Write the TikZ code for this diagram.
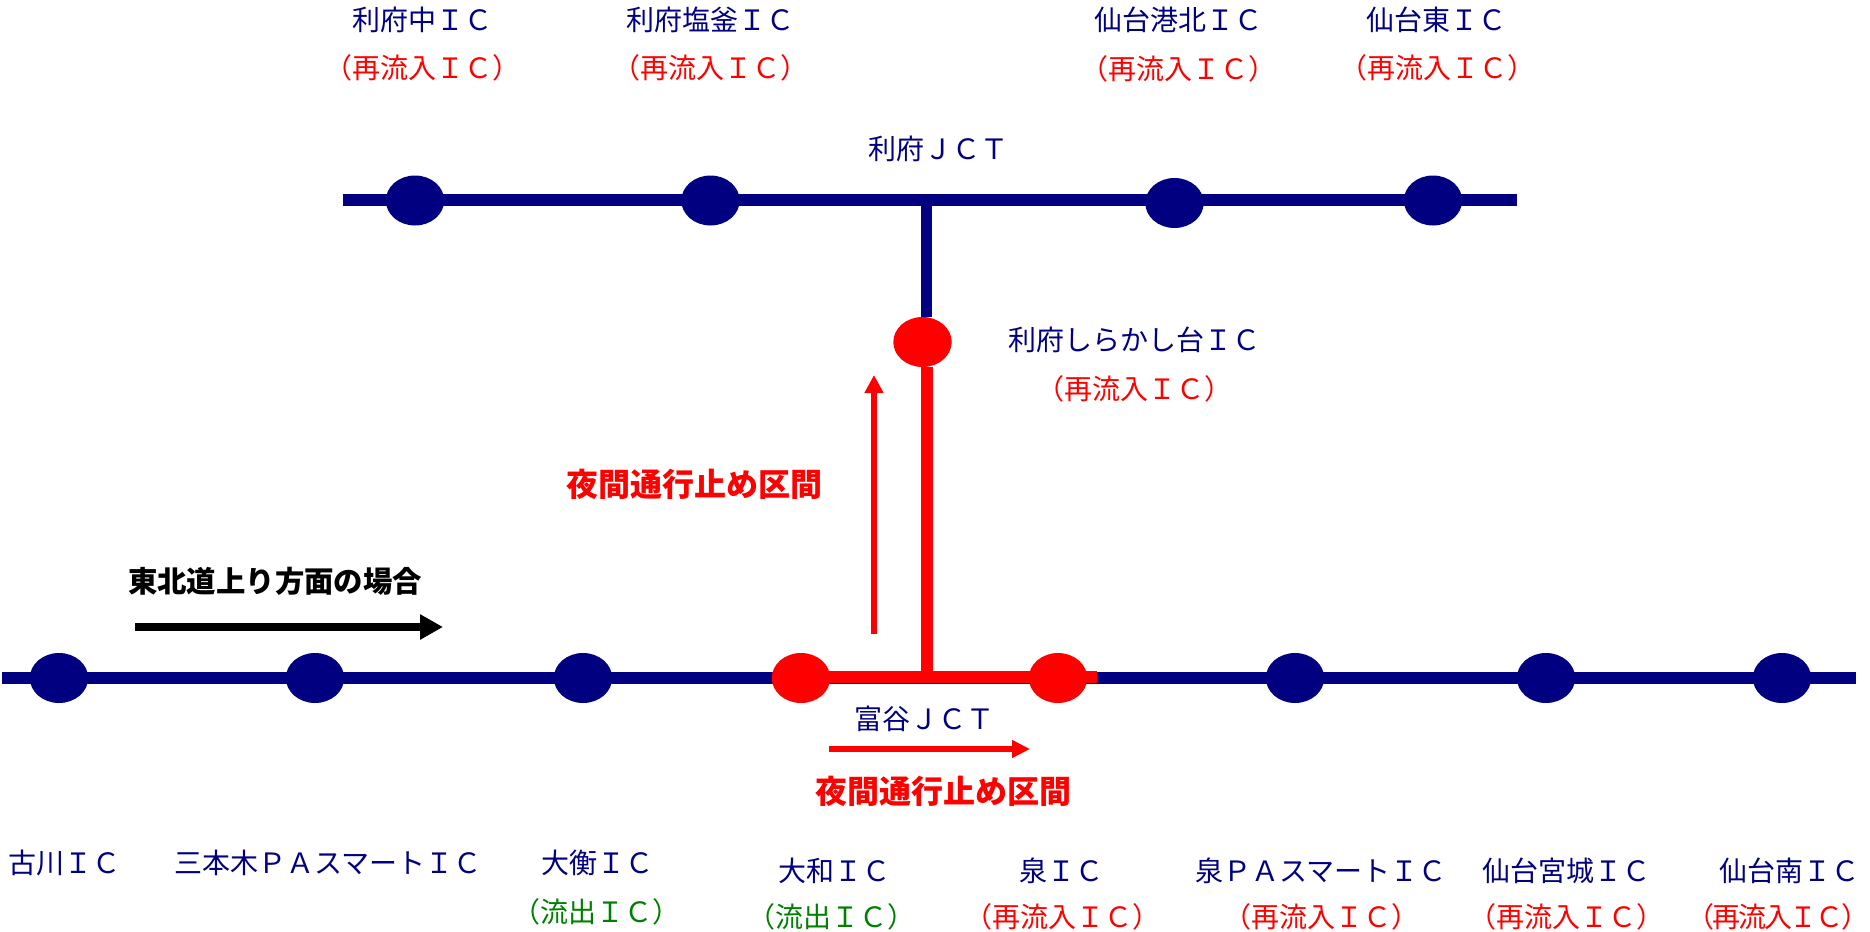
\documentclass[tikz,border=0pt]{standalone}
\usepackage{fontspec}
\setmainfont{Noto Sans CJK JP}
\usetikzlibrary{arrows.meta,shapes.geometric}
\definecolor{nv}{RGB}{0,0,128}
\definecolor{rd}{RGB}{255,0,0}
\definecolor{gr}{RGB}{0,128,0}
\tikzset{
  ic/.style={ellipse,minimum width=29.2pt,minimum height=25pt,inner sep=0pt,fill=#1,draw=none},
  road/.style={line width=6pt,color=#1,line cap=butt},
  lbl/.style={inner sep=0pt,font=\fontsize{14}{14}\selectfont,text=#1},
  headlbl/.style={inner sep=0pt,font=\fontsize{#1}{#1}\selectfont\bfseries}
}
\newcommand{\tk}{\kern-.08em}
\begin{document}
\begin{tikzpicture}[x=0.5pt,y=-0.5pt]
\useasboundingbox (0,0) rectangle (1870,932);
% free ends of the roads
\coordinate (bl) at (2,678);
\coordinate (br) at (1856,678);
\coordinate (tl) at (343,200);
\coordinate (tr) at (1517,200);
\coordinate (jt) at (926.5,200);
\coordinate (rend) at (1097,677);
\coordinate (rstart) at (801,677);
\coordinate (jr) at (926.5,677);
% roads
\draw[road=nv] (bl) -- (br);
\draw[road=nv] (tl) -- (tr);
\node[ic=nv] (a1) at (59,678) {};
\node[ic=nv] (a2) at (315,678) {};
\node[ic=nv] (a3) at (583,678) {};
\node[ic=rd] (a4) at (801,678) {};
\node[ic=rd] (a5) at (1058,678) {};
\node[ic=nv] (a6) at (1295,678) {};
\node[ic=nv] (a7) at (1546,678) {};
\node[ic=nv] (a8) at (1782,678) {};
\node[ic=nv] (b1) at (415,200.5) {};
\node[ic=nv] (b2) at (710.5,200.5) {};
\node[ic=nv] (b3) at (1174.5,203) {};
\node[ic=nv] (b4) at (1433,200.5) {};
\node[ic=rd] (c) at (922.5,342) {};
\coordinate (ct) at (926.5,342);
\draw[line width=5.5pt,color=nv] (jt) -- (ct |- c.north);
\draw[road=rd] (rstart) -- (rend);
\draw[line width=6pt,color=rd] (jr) -- (ct |- c.south);
% flow arrows
\coordinate (k1) at (135,627);
\coordinate (k2) at (443,627);
\draw[line width=4pt,color=black,-{Triangle[length=11.5pt,width=12pt]}] (k1) -- (k2);
\coordinate (r1) at (874,634);
\coordinate (r2) at (874,375);
\draw[line width=2.75pt,color=rd,-{Triangle[length=9pt,width=9pt]}] (r1) -- (r2);
\coordinate (s1) at (829,749);
\coordinate (s2) at (1030,749);
\draw[line width=2.75pt,color=rd,-{Triangle[length=9pt,width=8.5pt]}] (s1) -- (s2);
% labels
\node[lbl=nv] (t1) at (422,20) {利府中ＩＣ};
\node[lbl=rd] (t1r) at (422,68) {（再流入ＩＣ）};
\node[lbl=nv] (t2) at (710,20) {利府塩釜ＩＣ};
\node[lbl=rd] (t2r) at (710,68) {（再流入ＩＣ）};
\node[lbl=nv] (t3) at (1178,20) {仙台港北ＩＣ};
\node[lbl=rd] (t3r) at (1178,69) {（再流入ＩＣ）};
\node[lbl=nv] (t4) at (1436,20) {仙台東ＩＣ};
\node[lbl=rd] (t4r) at (1437,68) {（再流入ＩＣ）};
\node[lbl=nv] (t5) at (938,149) {利府ＪＣＴ};
\node[lbl=nv] (t6) at (1134,340) {利府しらかし台ＩＣ};
\node[lbl=rd] (t6r) at (1134,389) {（再流入ＩＣ）};
\node[headlbl=16,text=rd] (n1) at (694,484) {夜間通行止め区間};
\node[headlbl=14.7,text=black] (n2) at (275,581) {東北道上り方面の場合};
\node[lbl=nv] (j) at (924,719) {富谷ＪＣＴ};
\node[headlbl=16,text=rd] (n3) at (943,791) {夜間通行止め区間};
\node[lbl=nv] (u1) at (65,863) {古川ＩＣ};
\node[lbl=nv] (u2) at (328,863) {三本木ＰＡスマートＩＣ};
\node[lbl=nv] (u3) at (597,863) {大衡ＩＣ};
\node[lbl=gr] (u3g) at (596,912) {（流出ＩＣ）};
\node[lbl=nv] (u4) at (834,871) {大和ＩＣ};
\node[lbl=gr] (u4g) at (831,917) {（流出ＩＣ）};
\node[lbl=nv] (u5) at (1061,871) {泉ＩＣ};
\node[lbl=rd] (u5r) at (1062,917) {（再流入ＩＣ）};
\node[lbl=nv] (u6) at (1321,871) {泉ＰＡスマートＩＣ};
\node[lbl=rd] (u6r) at (1321,917) {（再流入ＩＣ）};
\node[lbl=nv] (u7) at (1566,871) {仙台宮城ＩＣ};
\node[lbl=rd] (u7r) at (1566,917) {（再流入ＩＣ）};
\node[lbl=nv] (u8) at (1789,871) {仙台南ＩＣ};
\node[lbl=rd] (u8r) at (1778,917) {（\tk 再\tk 流\tk 入\tk Ｉ\tk Ｃ\tk ）};
\end{tikzpicture}
\end{document}
